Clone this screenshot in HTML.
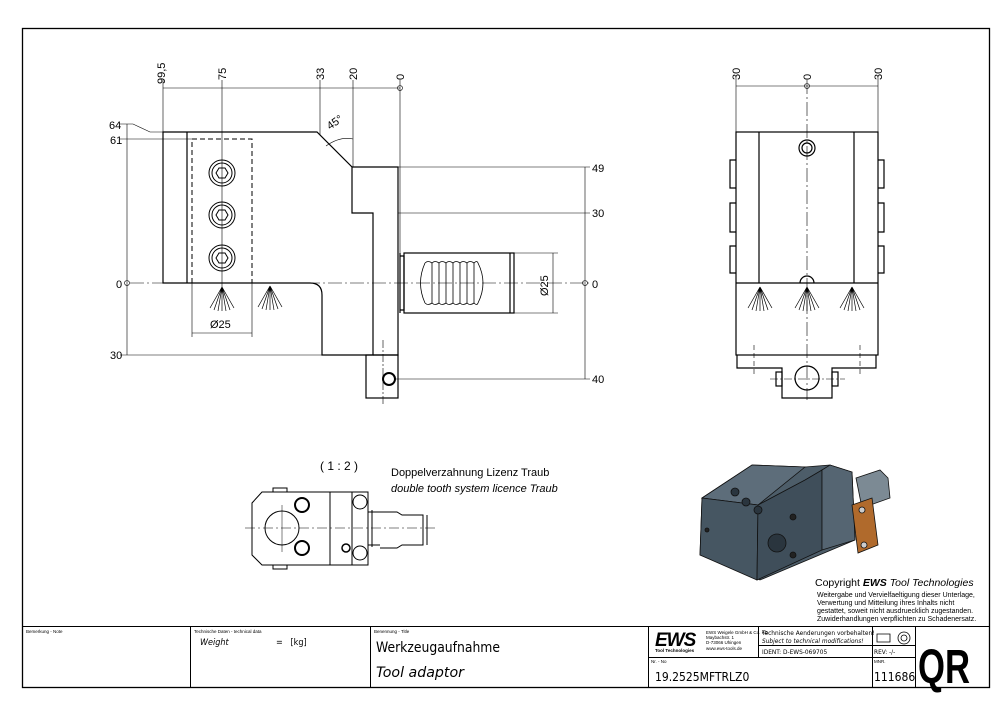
<!DOCTYPE html>
<html><head><meta charset="utf-8"><style>
html,body{margin:0;padding:0;background:#fff}
svg{display:block}
text{font-family:"Liberation Sans",sans-serif;fill:#000}
.n{font-family:"DejaVu Sans Condensed","DejaVu Sans","Liberation Sans",sans-serif}
</style></head><body>
<svg width="1000" height="715" viewBox="0 0 1000 715" xmlns="http://www.w3.org/2000/svg">
<g fill="none" stroke="#000" stroke-width="1">
<rect x="22.5" y="28.5" width="967" height="659" stroke-width="1.3"/>
<line x1="22" y1="626.5" x2="990" y2="626.5"/>
<line x1="190.5" y1="626" x2="190.5" y2="688"/>
<line x1="370.5" y1="626" x2="370.5" y2="688"/>
<line x1="648.5" y1="626" x2="648.5" y2="688"/>
<line x1="758.5" y1="626" x2="758.5" y2="657"/>
<line x1="648" y1="657.5" x2="915" y2="657.5"/>
<line x1="758" y1="645.5" x2="915" y2="645.5"/>
<line x1="872.5" y1="626" x2="872.5" y2="688"/>
<line x1="915.5" y1="626" x2="915.5" y2="688"/>

<g stroke-width="1.2">
<path d="M163 132 H317 L352 167 V213 H373 V355 H322 V295 Q322 283 310 283 H163 Z"/>
<line x1="187" y1="132" x2="187" y2="283"/>
<path d="M352 167 H398 V355 H373"/>
<rect x="366" y="355" width="32" height="43"/>
<path d="M400 253 V313 M400 256 H404 V310 H400"/>
<rect x="404" y="253" width="110" height="60"/>
<line x1="510" y1="253" x2="510" y2="313"/>
</g>
<rect x="192" y="139" width="60" height="144" stroke-dasharray="5,3"/>
<g>
<circle cx="222" cy="173" r="13"/><circle cx="222" cy="173" r="10"/><polygon points="216,173 219,168 225,168 228,173 225,178 219,178"/>
<circle cx="222" cy="215" r="13"/><circle cx="222" cy="215" r="10"/><polygon points="216,215 219,210 225,210 228,215 225,220 219,220"/>
<circle cx="222" cy="258" r="13"/><circle cx="222" cy="258" r="10"/><polygon points="216,258 219,253 225,253 228,258 225,263 219,263"/>
<circle cx="389" cy="379" r="6" stroke-width="2"/>
</g>
<path d="M425 263 Q416 283 425 303 M432 263 V303 M439 263 V303 M446 263 V303 M453 263 V303 M460 263 V303 M467 263 V303 M474 263 V303 M478 263 Q488 283 478 303" stroke-width="0.8"/>
<path d="M425 263 Q428 260 432 263 Q435 260 439 263 Q442 260 446 263 Q449 260 453 263 Q456 260 460 263 Q463 260 467 263 Q470 260 474 263 Q477 260 478 263 M425 303 Q428 306 432 303 Q435 306 439 303 Q442 306 446 303 Q449 306 453 303 Q456 306 460 303 Q463 306 467 303 Q470 306 474 303 Q477 306 478 303" stroke-width="0.8"/>
<path d="M222 287 L210 308 M222 287 L214 310 M222 287 L218 311 M222 287 L222 311 M222 287 L226 311 M222 287 L230 310 M222 287 L234 308" stroke-width="0.7"/>
<path d="M270 286 L258 307 M270 286 L262 309 M270 286 L266 310 M270 286 L270 310 M270 286 L274 310 M270 286 L278 309 M270 286 L282 307" stroke-width="0.7"/>
<line x1="130" y1="283" x2="590" y2="283" stroke-dasharray="14,3,2,3" stroke-width="0.6"/>
<line x1="222" y1="150" x2="222" y2="290" stroke-width="0.6"/>
<line x1="383" y1="340" x2="383" y2="405" stroke-dasharray="8,2,2,2" stroke-width="0.6"/>
<g stroke-width="0.6">
<line x1="163" y1="88" x2="400" y2="88"/>
<line x1="163" y1="80" x2="163" y2="132"/>
<line x1="222" y1="80" x2="222" y2="150"/>
<line x1="320" y1="80" x2="320" y2="135"/>
<line x1="353" y1="80" x2="353" y2="167"/>
<line x1="400" y1="80" x2="400" y2="253"/>
<circle cx="400" cy="88" r="2.5"/>
<line x1="127" y1="124" x2="127" y2="355"/>
<path d="M120 124 H133 L150 132 H163"/>
<line x1="120" y1="139" x2="192" y2="139"/>
<line x1="120" y1="355" x2="322" y2="355"/>
<circle cx="127" cy="283" r="2.5"/>
<line x1="398" y1="167" x2="590" y2="167"/>
<line x1="398" y1="213" x2="590" y2="213"/>
<line x1="395" y1="379" x2="590" y2="379"/>
<line x1="585" y1="167" x2="585" y2="379"/>
<circle cx="585" cy="283" r="2.5"/>
<line x1="514" y1="253" x2="558" y2="253"/>
<line x1="514" y1="313" x2="558" y2="313"/>
<line x1="553" y1="253" x2="553" y2="313"/>
<line x1="192" y1="283" x2="192" y2="337"/>
<line x1="252" y1="283" x2="252" y2="337"/>
<line x1="192" y1="333" x2="252" y2="333"/>
<path d="M326 146 Q340 136 353 139"/>
</g>
<g stroke-width="1.2">
<rect x="736" y="132" width="142" height="223"/>
<line x1="736" y1="283" x2="878" y2="283"/>
<line x1="759" y1="132" x2="759" y2="283"/>
<line x1="854" y1="132" x2="854" y2="283"/>
<path d="M737 355 V368 H782 V398 H832 V368 H876 V355"/>
<path d="M736 160 H730 V188 H736 M736 203 H730 V232 H736 M736 246 H730 V273 H736"/>
<path d="M878 160 H884 V188 H878 M878 203 H884 V232 H878 M878 246 H884 V273 H878"/>
<circle cx="807" cy="378" r="12"/>
<circle cx="807" cy="148" r="8"/><circle cx="807" cy="148" r="5"/>
<path d="M800 283 A7 7 0 0 1 814 283"/>
<rect x="776" y="372" width="6" height="14"/><rect x="832" y="372" width="6" height="14"/>
</g>
<path d="M760 287 L748 308 M760 287 L752 310 M760 287 L756 311 M760 287 L760 311 M760 287 L764 311 M760 287 L768 310 M760 287 L772 308 M807 287 L795 308 M807 287 L799 310 M807 287 L803 311 M807 287 L807 311 M807 287 L811 311 M807 287 L815 310 M807 287 L819 308 M852 287 L840 308 M852 287 L844 310 M852 287 L848 311 M852 287 L852 311 M852 287 L856 311 M852 287 L860 310 M852 287 L864 308" stroke-width="0.7"/>
<g stroke-width="0.6">
<line x1="736" y1="86" x2="878" y2="86"/>
<line x1="736" y1="78" x2="736" y2="132"/><line x1="878" y1="78" x2="878" y2="132"/>
<line x1="807" y1="80" x2="807" y2="400" stroke-dasharray="14,3,2,3"/>
<circle cx="807" cy="86" r="2.5"/>
<line x1="754" y1="345" x2="754" y2="375" stroke-dasharray="5,3"/>
<line x1="860" y1="345" x2="860" y2="375" stroke-dasharray="5,3"/>
<line x1="770" y1="379" x2="845" y2="379" stroke-dasharray="8,2,2,2"/>
</g>
<g stroke-width="1">
<path d="M262 492 H368 V565 H262 L252 555 V503 Z"/>
<line x1="330" y1="492" x2="330" y2="565"/>
<line x1="352" y1="492" x2="352" y2="565"/>
<circle cx="282" cy="528" r="17"/>
<circle cx="302" cy="505" r="7" stroke-width="2"/><circle cx="302" cy="548" r="7" stroke-width="2"/>
<circle cx="360" cy="502" r="7"/><circle cx="360" cy="553" r="7"/>
<circle cx="346" cy="548" r="4" stroke-width="1.5"/>
<path d="M368 512 H380 M368 545 H380 M372 510 V547"/>
<path d="M372 512 H397 L402 515 H423 V545 H402 L397 548 H380"/>
<line x1="427" y1="515" x2="427" y2="545"/>
<rect x="273" y="488" width="14" height="4"/><rect x="273" y="565" width="14" height="4"/>
</g>
<line x1="245" y1="528" x2="435" y2="528" stroke-dasharray="10,3,2,3" stroke-width="0.6"/>
<line x1="282" y1="505" x2="282" y2="552" stroke-width="0.5"/>
<path d="M877 634 H890 V642 H877 Z" stroke-width="0.8"/>
<circle cx="904" cy="638" r="6" stroke-width="0.8"/><circle cx="904" cy="638" r="3" stroke-width="0.8"/>
</g>

<g stroke="#111" stroke-width="0.8">
<polygon points="856,478 880,470 888,478 890,498 862,508" fill="#7c8a94"/>
<polygon points="702,498 752,465 805,467 830,465 852,472 855,540 760,580 700,555" fill="#4d5d69"/>
<polygon points="702,498 752,465 805,467 758,505" fill="#5d6d7a"/>
<polygon points="702,498 758,505 757,580 700,555" fill="#465662"/>
<polygon points="758,505 805,480 822,470 822,550 757,580" fill="#3f4e5a"/>
<polygon points="822,470 830,465 852,472 855,540 822,550" fill="#556572"/>
<polygon points="852,505 872,498 878,545 858,553" fill="#b06a2c"/>
<circle cx="777" cy="543" r="9" fill="#2a353e"/>
<circle cx="735" cy="492" r="4" fill="#2a353e"/><circle cx="746" cy="502" r="4" fill="#2a353e"/><circle cx="758" cy="510" r="4" fill="#2a353e"/>
<circle cx="793" cy="517" r="3" fill="#222"/><circle cx="793" cy="555" r="3" fill="#222"/>
<circle cx="707" cy="530" r="2" fill="#222"/>
<circle cx="862" cy="510" r="3" fill="#ccc"/><circle cx="864" cy="545" r="3" fill="#ccc"/>
</g>

<g class="n" style="font-size:11px">
<text transform="translate(165,84) rotate(-90)">99,5</text>
<text transform="translate(226,80) rotate(-90)">75</text>
<text transform="translate(324,80) rotate(-90)">33</text>
<text transform="translate(357,80) rotate(-90)">20</text>
<text transform="translate(404,80) rotate(-90)">0</text>
<text x="109" y="129">64</text><text x="110" y="144">61</text>
<text x="116" y="288">0</text><text x="110" y="359">30</text>
<text x="592" y="172">49</text><text x="592" y="217">30</text>
<text x="592" y="288">0</text><text x="592" y="383">40</text>
<text x="210" y="328">Ø25</text>
<text transform="translate(548,296) rotate(-90)">Ø25</text>
<text transform="translate(330,130) rotate(-35)">45°</text>
<text transform="translate(740,80) rotate(-90)">30</text>
<text transform="translate(811,80) rotate(-90)">0</text>
<text transform="translate(882,80) rotate(-90)">30</text>
<text x="320" y="470" style="font-size:12px">( 1 : 2 )</text>
<text x="391" y="476">Doppelverzahnung Lizenz Traub</text>
<text x="391" y="492" font-style="italic">double tooth system licence Traub</text>
</g>
<text x="815" y="586" style="font-size:10.5px">Copyright <tspan font-weight="bold" font-style="italic">EWS</tspan><tspan font-style="italic"> Tool Technologies</tspan></text>
<g style="font-size:7px">
<text x="817" y="597">Weitergabe und Vervielfaeltigung dieser Unterlage,</text>
<text x="817" y="605">Verwertung und Mitteilung ihres Inhalts nicht</text>
<text x="817" y="613">gestattet, soweit nicht ausdruecklich zugestanden.</text>
<text x="817" y="621">Zuwiderhandlungen verpflichten zu Schadenersatz.</text>
</g>
<g style="font-size:4.5px">
<text x="26" y="633">Bemerkung - Note</text>
<text x="194" y="633">Technische Daten - technical data</text>
<text x="374" y="633">Benennung - Title</text>
<text x="651" y="663">Nr. - No</text>
<text x="874" y="663">MNR.</text>
<text x="706" y="634">EWS Weigele GmbH &amp; Co. KG</text>
<text x="706" y="639">Maybachstr. 1</text>
<text x="706" y="644">D-73066 Uhingen</text>
<text x="706" y="650">www.ews-tools.de</text>
</g>
<text x="200" y="645" class="n" style="font-size:9px;font-style:italic">Weight</text>
<text x="276" y="645" class="n" style="font-size:9px">=&#160;&#160;&#160;[kg]</text>
<text x="376" y="652" class="n" style="font-size:14px" textLength="124" lengthAdjust="spacingAndGlyphs">Werkzeugaufnahme</text>
<text x="376" y="677" class="n" style="font-size:14px;font-style:italic" textLength="88" lengthAdjust="spacingAndGlyphs">Tool adaptor</text>
<text x="655" y="646" style="font-size:19px;font-weight:bold;font-style:italic;letter-spacing:-1px">EWS</text>
<text x="655" y="652" style="font-size:4.5px;font-weight:bold">Tool Technologies</text>
<text x="762" y="635" class="n" style="font-size:6.5px">Technische Aenderungen vorbehalten!</text>
<text x="762" y="643" class="n" style="font-size:6.5px;font-style:italic">Subject to technical modifications!</text>
<text x="762" y="654" class="n" style="font-size:6.5px">IDENT:  D-EWS-069705</text>
<text x="874" y="654" class="n" style="font-size:6.5px">REV:  -/-</text>
<text x="655" y="681" class="n" style="font-size:12px">19.2525MFTRLZ0</text>
<text x="874" y="681" class="n" style="font-size:12px">111686</text>
<text x="918" y="683" style="font-size:48px;font-weight:bold;font-family:'Liberation Sans',sans-serif" textLength="52" lengthAdjust="spacingAndGlyphs">QR</text>
</svg>
</body></html>
